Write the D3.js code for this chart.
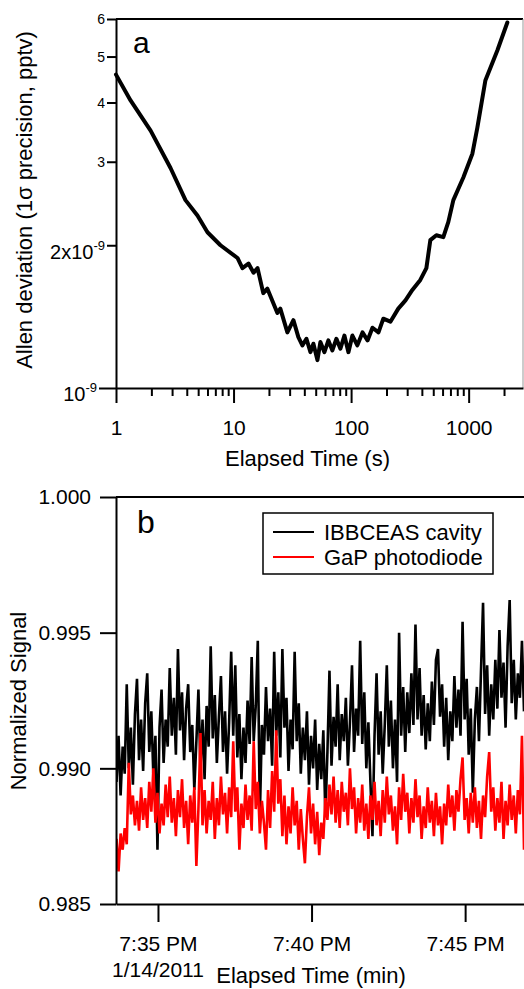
<!DOCTYPE html>
<html><head><meta charset="utf-8">
<script src="https://cdn.jsdelivr.net/npm/d3@7"></script>
<style>
body{margin:0;background:#fff}
svg{display:block}
text{font-family:Arial,"Liberation Sans",sans-serif;fill:#000}
</style>
</head><body>
<svg id="c" width="524" height="989"></svg>
<script>
// ---------- Panel a: Allan deviation ----------
const tauS = [1.0,1.33,1.97,2.91,3.90,4.93,6.0,7.74,10.8,11.9,13.4,14.8,16.0,17.9,19.4,23.6,25.0,28.7,32.3,35.6,
  38.5,41.7,45.1,47.8,51.7,54.8,59.3,64.1,69.3,75.0,81.1,87.7,94.9,102.6,113,125,138,152,171,188,
  216,252,290,332,388,437,472,531,609,672,741,901,1076,1186,1387,1754,2134];
const adev = [4.58,4.04,3.49,2.91,2.49,2.31,2.13,2.00,1.88,1.79,1.83,1.75,1.79,1.585,1.62,1.44,1.47,1.31,1.39,1.28,
  1.23,1.27,1.19,1.24,1.145,1.25,1.19,1.26,1.20,1.27,1.21,1.29,1.19,1.29,1.23,1.31,1.26,1.34,1.31,1.40,
  1.38,1.47,1.53,1.61,1.69,1.79,2.05,2.10,2.08,2.24,2.49,2.78,3.12,3.54,4.45,5.15,5.90].map(v => v * 1e-9);
const xMajorA = [1, 10, 100, 1000];
const xMinorA = [2,3,4,5,6,7,8,9,20,30,40,50,60,70,80,90,200,300,400,500,600,700,800,900,2000];
const yTicksA = [1e-9, 2e-9, 3e-9, 4e-9, 5e-9, 6e-9];
const yLabelsA = [["10","-9"],["2x10","-9"],["3",""],["4",""],["5",""],["6",""]];

// ---------- Panel b: normalized signals ----------
const startTime = new Date(2011, 0, 14, 19, 33, 39);
const stepSec = 4;
const cavity = [
0.9895,0.9912,0.9890,0.9908,0.9898,0.9931,0.9900,0.9915,0.9894,0.9920,
0.9933,0.9903,0.9918,0.9899,0.9924,0.9935,0.9906,0.9921,0.9897,0.9912,
0.9870,0.9915,0.9929,0.9902,0.9918,0.9908,0.9937,0.9912,0.9926,0.9905,
0.9944,0.9914,0.9928,0.9903,0.9922,0.9931,0.9906,0.9916,0.9892,0.9910,
0.9929,0.9900,0.9918,0.9896,0.9923,0.9908,0.9945,0.9911,0.9927,0.9902,
0.9919,0.9934,0.9906,0.9921,0.9898,0.9917,0.9943,0.9912,0.9938,0.9904,
0.9920,0.9896,0.9915,0.9902,0.9925,0.9909,0.9941,0.9910,0.9923,0.9947,
0.9882,0.9916,0.9905,0.9930,0.9910,0.9922,0.9901,0.9943,0.9912,0.9928,
0.9904,0.9944,0.9915,0.9926,0.9899,0.9918,0.9907,0.9943,0.9910,0.9924,
0.9898,0.9915,0.9903,0.9921,0.9894,0.9912,0.9900,0.9918,0.9892,0.9909,
0.9896,0.9914,0.9882,0.9906,0.9936,0.9901,0.9919,0.9908,0.9931,0.9903,
0.9920,0.9910,0.9926,0.9901,0.9917,0.9938,0.9906,0.9922,0.9912,0.9947,
0.9909,0.9928,0.9900,0.9917,0.9895,0.9875,0.9912,0.9935,0.9905,0.9921,
0.9898,0.9916,0.9938,0.9908,0.9925,0.9900,0.9918,0.9895,0.9950,0.9912,
0.9930,0.9906,0.9928,0.9913,0.9935,0.9916,0.9953,0.9918,0.9937,0.9912,
0.9927,0.9907,0.9924,0.9910,0.9932,0.9916,0.9940,0.9944,0.9919,0.9931,
0.9908,0.9926,0.9903,0.9921,0.9910,0.9934,0.9915,0.9929,0.9912,0.9954,
0.9918,0.9933,0.9905,0.9922,0.9891,0.9918,0.9930,0.9910,0.9936,0.9961,
0.9920,0.9938,0.9912,0.9931,0.9918,0.9940,0.9922,0.9951,0.9926,0.9939,
0.9915,0.9945,0.9962,0.9924,0.9940,0.9918,0.9935,0.9926,0.9947,0.9921];
const photodiode = [
0.9874,0.9862,0.9876,0.9870,0.9878,0.9872,0.9902,0.9883,0.9890,0.9879,
0.9888,0.9877,0.9893,0.9881,0.9889,0.9878,0.9895,0.9884,0.9900,0.9880,
0.9891,0.9876,0.9887,0.9879,0.9894,0.9882,0.9897,0.9880,0.9889,0.9875,
0.9892,0.9882,0.9896,0.9878,0.9888,0.9872,0.9890,0.9880,0.9893,0.9864,
0.9885,0.9913,0.9879,0.9892,0.9876,0.9888,0.9881,0.9895,0.9874,0.9889,
0.9879,0.9897,0.9883,0.9891,0.9876,0.9893,0.9882,0.9910,0.9884,0.9893,
0.9870,0.9887,0.9878,0.9894,0.9881,0.9890,0.9877,0.9910,0.9885,0.9895,
0.9876,0.9888,0.9880,0.9870,0.9892,0.9878,0.9899,0.9884,0.9914,0.9887,
0.9896,0.9875,0.9890,0.9872,0.9886,0.9876,0.9893,0.9879,0.9888,0.9870,
0.9885,0.9874,0.9865,0.9882,0.9893,0.9876,0.9887,0.9872,0.9884,0.9868,
0.9880,0.9874,0.9889,0.9881,0.9894,0.9883,0.9897,0.9880,0.9892,0.9878,
0.9895,0.9884,0.9891,0.9879,0.9900,0.9885,0.9893,0.9876,0.9889,0.9880,
0.9894,0.9877,0.9887,0.9874,0.9890,0.9881,0.9895,0.9879,0.9888,0.9875,
0.9892,0.9880,0.9897,0.9883,0.9890,0.9877,0.9886,0.9872,0.9893,0.9881,
0.9898,0.9884,0.9891,0.9876,0.9889,0.9880,0.9896,0.9882,0.9890,0.9874,
0.9886,0.9878,0.9893,0.9880,0.9888,0.9875,0.9891,0.9879,0.9886,0.9872,
0.9887,0.9879,0.9894,0.9882,0.9890,0.9877,0.9892,0.9884,0.9896,0.9904,
0.9881,0.9889,0.9876,0.9891,0.9880,0.9893,0.9878,0.9888,0.9874,0.9890,
0.9882,0.9897,0.9906,0.9884,0.9893,0.9877,0.9889,0.9880,0.9895,0.9874,
0.9888,0.9879,0.9894,0.9881,0.9890,0.9876,0.9892,0.9883,0.9912,0.9870];
const yTicksB = [0.985, 0.990, 0.995, 1.000];
const xTicksB = [new Date(2011,0,14,19,35), new Date(2011,0,14,19,40), new Date(2011,0,14,19,45)];
const dateLabel = "1/14/2011";
const seriesNames = ["IBBCEAS cavity", "GaP photodiode"];
const seriesColors = ["#000000", "#ff0000"];

// ================= drawing =================
const svg = d3.select("#c");
const TICK_FS = 21, TITLE_FS = 22;

// ---- panel a ----
const xA = d3.scaleLog().domain([1, 2900]).range([116, 523]);
const yA = d3.scaleLog().domain([1e-9, 6e-9]).range([388, 19]);
const gA = svg.append("g");

gA.append("line").attr("x1", xA.range()[0]).attr("x2", xA.range()[1])
  .attr("y1", yA.range()[1]).attr("y2", yA.range()[1]).attr("stroke", "#000").attr("stroke-width", 2);
gA.append("line").attr("x1", xA.range()[1]).attr("x2", xA.range()[1])
  .attr("y1", yA.range()[1]).attr("y2", yA.range()[0]).attr("stroke", "#999").attr("stroke-width", 1);

function styleAxis(g) {
  g.selectAll("path.domain").attr("stroke", "#000").attr("stroke-width", 2);
  g.selectAll(".tick line").attr("stroke", "#000").attr("stroke-width", 2);
  g.selectAll("text").attr("font-family", "Arial, 'Liberation Sans', sans-serif").attr("fill", "#000");
}

const xMinA = gA.append("g").attr("transform", `translate(0,${yA.range()[0]})`)
  .call(d3.axisBottom(xA).tickValues(xMinorA).tickSize(8).tickSizeOuter(0).tickFormat(""));
xMinA.select("path.domain").remove();
styleAxis(xMinA);
const xMajA = gA.append("g").attr("transform", `translate(0,${yA.range()[0]})`)
  .call(d3.axisBottom(xA).tickValues(xMajorA).tickSize(15).tickSizeOuter(0).tickPadding(17).tickFormat(d3.format("d")));
xMajA.attr("font-size", TICK_FS);
styleAxis(xMajA);

const yAx = gA.append("g").attr("transform", `translate(${xA.range()[0]},0)`)
  .call(d3.axisLeft(yA).tickValues(yTicksA).tickSizeOuter(0).tickFormat(""));
styleAxis(yAx);
yAx.selectAll(".tick").each(function(d, i) {
  const t = d3.select(this);
  const major = i === 0;
  const len = major ? 17 : 9;
  t.select("line").attr("x2", -len);
  const lab = yLabelsA[i];
  const txt = t.append("text").attr("text-anchor", "end").attr("x", -len - 2);
  if (lab[1]) {
    txt.attr("font-size", 20).attr("y", i === 0 ? 12 : 13);
    txt.append("tspan").text(lab[0]);
    txt.append("tspan").attr("font-size", 13).attr("dy", -9).text(lab[1]);
  } else {
    txt.attr("font-size", 14).attr("dy", "0.35em").text(lab[0]);
  }
});

const aData = tauS.map((t, i) => ({t, v: adev[i]}));
gA.append("path").datum(aData)
  .attr("fill", "none").attr("stroke", "#000").attr("stroke-width", 4)
  .attr("stroke-linejoin", "round").attr("stroke-linecap", "round")
  .attr("d", d3.line().x(d => xA(d.t)).y(d => yA(d.v)));

gA.append("text").attr("x", 133).attr("y", 53).attr("font-size", 30).text("a");
gA.append("text").attr("transform", "translate(32,200) rotate(-90)")
  .attr("text-anchor", "middle").attr("font-size", TITLE_FS)
  .text("Allen deviation (1σ precision, pptv)");
gA.append("text").attr("x", (xA(1) + xA(2900)) / 2 - 12).attr("y", 466)
  .attr("text-anchor", "middle").attr("font-size", TITLE_FS).text("Elapsed Time (s)");

// ---- panel b ----
const endTime = new Date(2011, 0, 14, 19, 46, 55);
const xB = d3.scaleTime().domain([new Date(2011, 0, 14, 19, 33, 38), endTime]).range([116, 524]);
const yB = d3.scaleLinear().domain([0.985, 1.000]).range([904, 497]);
const gB = svg.append("g");

gB.append("line").attr("x1", xB.range()[0]).attr("x2", xB.range()[1])
  .attr("y1", yB.range()[1]).attr("y2", yB.range()[1]).attr("stroke", "#000").attr("stroke-width", 2);

svg.append("clipPath").attr("id", "clipB").append("rect")
  .attr("x", xB.range()[0]).attr("y", yB.range()[1])
  .attr("width", xB.range()[1] - xB.range()[0]).attr("height", yB.range()[0] - yB.range()[1]);

const times = cavity.map((_, i) => new Date(startTime.getTime() + i * stepSec * 1000));
const lineB = d3.line().x(d => xB(d.t)).y(d => yB(d.v));
[cavity, photodiode].forEach((arr, k) => {
  gB.append("path").datum(arr.map((v, i) => ({t: times[i], v})))
    .attr("clip-path", "url(#clipB)")
    .attr("fill", "none").attr("stroke", seriesColors[k]).attr("stroke-width", 2.6)
    .attr("stroke-linejoin", "miter").attr("stroke-miterlimit", 3).attr("d", lineB);
});

const xAxB = gB.append("g").attr("transform", `translate(0,${yB.range()[0]})`)
  .call(d3.axisBottom(xB).tickValues(xTicksB).tickSize(18).tickSizeOuter(0).tickPadding(14)
    .tickFormat(d3.timeFormat("%-I:%M %p")));
xAxB.attr("font-size", TICK_FS);
styleAxis(xAxB);
const yAxB = gB.append("g").attr("transform", `translate(${xB.range()[0]},0)`)
  .call(d3.axisLeft(yB).tickValues(yTicksB).tickSize(16).tickSizeOuter(0).tickPadding(9)
    .tickFormat(d3.format(".3f")));
yAxB.attr("font-size", TICK_FS);
styleAxis(yAxB);

gB.append("text").attr("x", xB(xTicksB[0])).attr("y", 977).attr("text-anchor", "middle")
  .attr("font-size", TICK_FS).text(dateLabel);
gB.append("text").attr("x", 311).attr("y", 983).attr("text-anchor", "middle")
  .attr("font-size", TITLE_FS).text("Elapsed Time (min)");
gB.append("text").attr("transform", "translate(26,701) rotate(-90)")
  .attr("text-anchor", "middle").attr("font-size", TITLE_FS).text("Normalized Signal");
gB.append("text").attr("x", 137).attr("y", 533).attr("font-size", 32).text("b");

const lg = gB.append("g").attr("transform", "translate(263,513)");
lg.append("rect").attr("width", 230).attr("height", 61).attr("fill", "#fff")
  .attr("stroke", "#000").attr("stroke-width", 1.5);
seriesNames.forEach((n, k) => {
  const y = 19 + k * 25;
  lg.append("line").attr("x1", 10).attr("x2", 51).attr("y1", y).attr("y2", y)
    .attr("stroke", seriesColors[k]).attr("stroke-width", 2);
  lg.append("text").attr("x", 61).attr("y", y + 8).attr("font-size", TITLE_FS).text(n);
});
</script>
</body></html>
